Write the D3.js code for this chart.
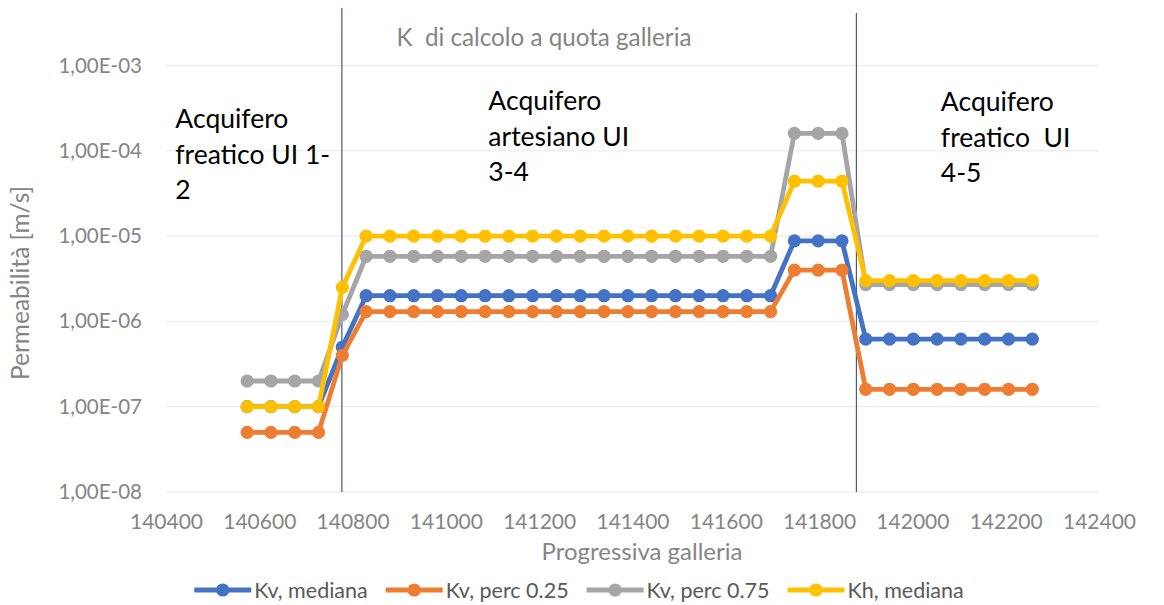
<!DOCTYPE html>
<html>
<head>
<meta charset="utf-8">
<script src="https://cdn.jsdelivr.net/npm/d3@7/dist/d3.min.js"></script>
<style>
  html, body { margin: 0; padding: 0; background: #fff; }
  svg { display: block; font-family: Lato, "Open Sans", sans-serif; }
</style>
</head>
<body>
<svg id="chart" width="1164" height="605"></svg>
<script>
// ---- data ----
const progressiva = [140574, 140625, 140676, 140727, 140778, 140829, 140880, 140931, 140982, 141033,
  141084, 141135, 141186, 141237, 141288, 141339, 141390, 141441, 141492, 141543,
  141594, 141645, 141696, 141747, 141798, 141849, 141900, 141951, 142002, 142053,
  142104, 142155, 142206, 142257];
const kvMediana = [1e-7, 1e-7, 1e-7, 1e-7, 5e-7,
  2e-6, 2e-6, 2e-6, 2e-6, 2e-6, 2e-6, 2e-6, 2e-6, 2e-6, 2e-6, 2e-6, 2e-6, 2e-6, 2e-6, 2e-6, 2e-6, 2e-6, 2e-6,
  8.8e-6, 8.8e-6, 8.8e-6,
  6.2e-7, 6.2e-7, 6.2e-7, 6.2e-7, 6.2e-7, 6.2e-7, 6.2e-7, 6.2e-7];
const kvPerc25 = [5e-8, 5e-8, 5e-8, 5e-8, 4e-7,
  1.3e-6, 1.3e-6, 1.3e-6, 1.3e-6, 1.3e-6, 1.3e-6, 1.3e-6, 1.3e-6, 1.3e-6, 1.3e-6, 1.3e-6, 1.3e-6, 1.3e-6, 1.3e-6, 1.3e-6, 1.3e-6, 1.3e-6, 1.3e-6,
  4e-6, 4e-6, 4e-6,
  1.6e-7, 1.6e-7, 1.6e-7, 1.6e-7, 1.6e-7, 1.6e-7, 1.6e-7, 1.6e-7];
const kvPerc75 = [2e-7, 2e-7, 2e-7, 2e-7, 1.2e-6,
  5.8e-6, 5.8e-6, 5.8e-6, 5.8e-6, 5.8e-6, 5.8e-6, 5.8e-6, 5.8e-6, 5.8e-6, 5.8e-6, 5.8e-6, 5.8e-6, 5.8e-6, 5.8e-6, 5.8e-6, 5.8e-6, 5.8e-6, 5.8e-6,
  1.6e-4, 1.6e-4, 1.6e-4,
  2.7e-6, 2.7e-6, 2.7e-6, 2.7e-6, 2.7e-6, 2.7e-6, 2.7e-6, 2.7e-6];
const khMediana = [1e-7, 1e-7, 1e-7, 1e-7, 2.5e-6,
  1e-5, 1e-5, 1e-5, 1e-5, 1e-5, 1e-5, 1e-5, 1e-5, 1e-5, 1e-5, 1e-5, 1e-5, 1e-5, 1e-5, 1e-5, 1e-5, 1e-5, 1e-5,
  4.4e-5, 4.4e-5, 4.4e-5,
  3e-6, 3e-6, 3e-6, 3e-6, 3e-6, 3e-6, 3e-6, 3e-6];
const seriesNames = ["Kv, mediana", "Kv, perc 0.25", "Kv, perc 0.75", "Kh, mediana"];
const seriesColors = ["#4472C4", "#ED7D31", "#A5A5A5", "#FFC000"];
const xTicks = [140400, 140600, 140800, 141000, 141200, 141400, 141600, 141800, 142000, 142200, 142400];
const yTicks = [1e-8, 1e-7, 1e-6, 1e-5, 1e-4, 1e-3];
const boundaries = [140777, 141880];
const zoneLabels = [
  { x: 140420, lines: ["Acquifero", "freatico UI 1-", "2"], top: 1.85e-4 },
  { x: 141091, lines: ["Acquifero", "artesiano UI", "3-4"], top: 3.0e-4 },
  { x: 142061, lines: ["Acquifero", "freatico  UI", "4-5"], top: 2.9e-4 }
];
const titleText = "K  di calcolo a quota galleria";
const xTitle = "Progressiva galleria";
const yTitle = "Permeabilità [m/s]";

// ---- layout ----
const svg = d3.select("#chart");
const x = d3.scaleLinear().domain([140400, 142400]).range([166, 1099]);
const y = d3.scaleLog().domain([1e-8, 1e-3]).range([492, 65.5]);
const series = [kvMediana, kvPerc25, kvPerc75, khMediana];
const tickColor = "#858585";

// gridlines
svg.append("g").selectAll("line").data(yTicks).join("line")
  .attr("x1", x(140400)).attr("x2", x(142400))
  .attr("y1", d => y(d)).attr("y2", d => y(d))
  .attr("stroke", "#e8e8e8").attr("stroke-width", 1);

// y axis
const fmtY = d => "1,00E-" + String(Math.round(-Math.log10(d))).padStart(2, "0");
const gy = svg.append("g").attr("transform", `translate(${x(140400)},0)`)
  .call(d3.axisLeft(y).tickValues(yTicks).tickFormat(fmtY).tickSize(0).tickPadding(24));
gy.select(".domain").remove();
gy.selectAll("text").attr("fill", tickColor).style("font-size", "20.5px").style("font-family", "Lato");

// x axis
const gx = svg.append("g").attr("transform", `translate(0,${y(1e-8)})`)
  .call(d3.axisBottom(x).tickValues(xTicks).tickFormat(d3.format("d")).tickSize(0).tickPadding(22));
gx.select(".domain").remove();
gx.selectAll("text").attr("fill", tickColor).style("font-size", "21px").style("font-family", "Lato");

// boundaries
svg.append("g").selectAll("line").data(boundaries).join("line")
  .attr("x1", d => x(d)).attr("x2", d => x(d))
  .attr("y1", (d, i) => i === 0 ? 8 : 13).attr("y2", y(1e-8))
  .attr("stroke", "#4a5a85").attr("stroke-width", 1.2);

// series
const line = d3.line().x((d, i) => x(progressiva[i])).y(d => y(d));
series.forEach((vals, si) => {
  const g = svg.append("g");
  g.append("path").datum(vals).attr("d", line)
    .attr("fill", "none").attr("stroke", seriesColors[si]).attr("stroke-width", 4.8)
    .attr("stroke-linejoin", "round");
  g.selectAll("circle").data(vals).join("circle")
    .attr("cx", (d, i) => x(progressiva[i])).attr("cy", d => y(d))
    .attr("r", 6.6).attr("fill", seriesColors[si]);
});

// zone labels
zoneLabels.forEach(z => {
  const t = svg.append("text").attr("x", x(z.x)).attr("y", y(z.top))
    .attr("fill", "#000").style("font-size", "26.5px").style("white-space", "pre");
  z.lines.forEach((l, i) => {
    t.append("tspan").attr("x", x(z.x)).attr("dy", i === 0 ? 0 : 35.5).text(l);
  });
});

// title
svg.append("text").attr("x", 544).attr("y", 46).attr("text-anchor", "middle")
  .attr("fill", tickColor).style("font-size", "24.2px").style("white-space", "pre").text(titleText);

// axis titles
svg.append("text").attr("x", 642).attr("y", 560).attr("text-anchor", "middle")
  .attr("fill", tickColor).style("font-size", "24px").text(xTitle);
svg.append("text").attr("transform", "translate(29,283) rotate(-90)").attr("text-anchor", "middle")
  .attr("fill", tickColor).style("font-size", "24.5px").text(yTitle);

// legend
const leg = svg.append("g");
let cx = 0;
seriesNames.forEach((n, i) => {
  const g = leg.append("g").attr("transform", `translate(${cx},0)`);
  g.append("line").attr("x1", 0).attr("x2", 57).attr("y1", 0).attr("y2", 0)
    .attr("stroke", seriesColors[i]).attr("stroke-width", 4.8);
  g.append("circle").attr("cx", 28.5).attr("cy", 0).attr("r", 6.6).attr("fill", seriesColors[i]);
  const t = g.append("text").attr("x", 60).attr("y", 8).attr("fill", "#595959")
    .style("font-size", "21.5px").text(n);
  cx += 60 + t.node().getComputedTextLength() + 18;
});
const totalW = cx - 18;
leg.attr("transform", `translate(${579 - totalW / 2},590)`);
</script>
</body>
</html>
